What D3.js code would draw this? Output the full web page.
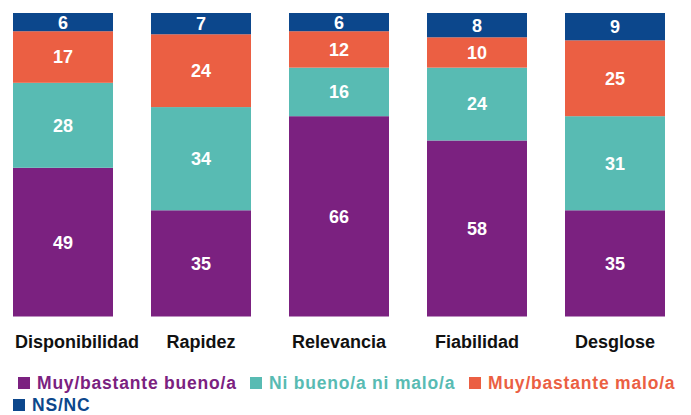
<!DOCTYPE html>
<html>
<head>
<meta charset="utf-8">
<script src="https://cdn.jsdelivr.net/npm/d3@7"></script>
<style>
  body { margin: 0; background: #fff; }
  svg { display: block; font-family: "Liberation Sans", Arial, Helvetica, sans-serif; }
</style>
</head>
<body>
<svg id="chart" width="691" height="415"></svg>
<script>
// datos
var categories = ['Disponibilidad', 'Rapidez', 'Relevancia', 'Fiabilidad', 'Desglose']
var series = ['Muy/bastante bueno/a', 'Ni bueno/a ni malo/a', 'Muy/bastante malo/a', 'NS/NC']
var bueno = [49, 35, 66, 58, 35]
var ni = [28, 34, 16, 24, 31]
var malo = [17, 24, 12, 10, 25]
var nsnc = [6, 7, 6, 8, 9]
var colors = ['#7b2180', '#58bbb3', '#eb5f43', '#0c478c']

var rows = categories.map((c, i) => ({
    cat: c,
    [series[0]]: bueno[i],
    [series[1]]: ni[i],
    [series[2]]: malo[i],
    [series[3]]: nsnc[i]
}))
var stack = d3.stack().keys(series)
var data = stack(rows)

var svg = d3.select('#chart')
var margin = { left: 13, right: 665, top: 13, bottom: 316.5 }

var x = d3.scaleBand()
    .domain(categories)
    .range([margin.left, margin.right])
    .paddingInner(38 / 138)
    .paddingOuter(0)
var y = d3.scaleLinear()
    .domain([0, 100])
    .range([margin.bottom, margin.top])

// bars
var g = svg.append('g')
var layers = g.selectAll('g.layer')
    .data(data)
    .join('g')
    .attr('class', 'layer')
    .attr('fill', (d, i) => colors[i])
layers.selectAll('rect')
    .data(d => d)
    .join('rect')
    .attr('x', d => x(d.data.cat))
    .attr('width', x.bandwidth())
    .attr('y', d => y(d[1]))
    .attr('height', d => y(d[0]) - y(d[1]))

// valores
layers.selectAll('text')
    .data(d => d)
    .join('text')
    .attr('x', d => x(d.data.cat) + x.bandwidth() / 2)
    .attr('y', d => (y(d[0]) + y(d[1])) / 2 + 6.4)
    .attr('text-anchor', 'middle')
    .attr('fill', '#fff')
    .attr('font-weight', 'bold')
    .attr('font-size', 18)
    .text(d => d[1] - d[0])

// categorias
var cat = svg.append('g')
cat.selectAll('text')
    .data(categories)
    .join('text')
    .attr('y', 348)
    .attr('text-anchor', 'middle')
    .attr('font-weight', 'bold')
    .attr('font-size', 18)
    .attr('fill', '#111')
    .text(d => d)
    .attr('x', function (d) {
        let w = this.getComputedTextLength()
        return Math.max(x(d) + x.bandwidth() / 2, 15 + w / 2)
    })

// leyenda
var legendPos = [[18, 389], [250, 389], [469, 389], [13, 411]]
var lg = svg.append('g')
var items = lg.selectAll('g')
    .data(series)
    .join('g')
    .attr('transform', (d, i) => `translate(${legendPos[i][0]},${legendPos[i][1]})`)
items.append('rect')
    .attr('x', 0)
    .attr('y', -12)
    .attr('width', 12)
    .attr('height', 12)
    .attr('fill', (d, i) => colors[i])
items.append('text')
    .attr('x', 19)
    .attr('y', 0)
    .attr('font-weight', 'bold')
    .attr('font-size', 17.5)
    .attr('letter-spacing', 0.8)
    .attr('fill', (d, i) => colors[i])
    .text(d => d)
</script>
</body>
</html>
